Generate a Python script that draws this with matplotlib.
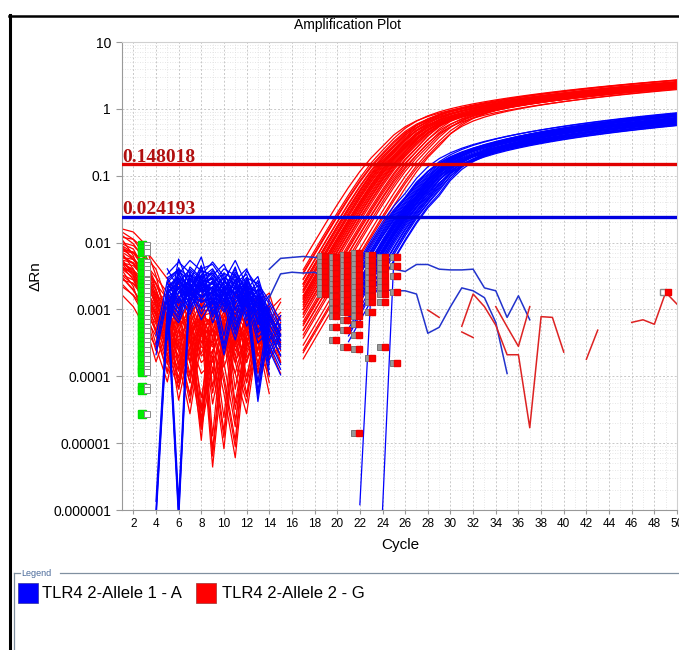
import numpy as np
import matplotlib
matplotlib.use("Agg")
import matplotlib.pyplot as plt
from matplotlib.lines import Line2D
from matplotlib.patches import Rectangle
from matplotlib.ticker import FixedLocator, FixedFormatter, MultipleLocator, LogLocator, NullFormatter

plt.rcParams['font.family'] = ['Liberation Sans', 'DejaVu Sans']

nan = np.nan
cycles = np.arange(1, 51)

# thresholds (dRn)
thr_allele1 = 0.024193
thr_allele2 = 0.148018

# threshold crossing cycle per well
blue_ct = [24.3, 25.6, 26.1, 24.8, 25.2, 26.7, 25.9, 25.4, 27.0, 24.6,
           25.8, 26.3, 25.1, 26.9, 25.5, 24.9, 26.0, 27.3, 25.7, 26.4,
           25.3, 26.6, 25.0, 25.9, 26.2, 27.1, 24.5, 25.6, 26.8, 25.4,
           26.0, 25.2, 27.4, 25.8, 26.5, 24.7, 26.1, 25.5, 26.3, 25.7]
red_ct = [22.5, 23.9, 24.6, 25.3, 23.4, 26.2, 24.1, 24.9, 27.5, 23.7,
          25.0, 24.4, 26.8, 23.2, 25.6, 24.7, 24.0, 25.9, 23.6, 26.5,
          24.3, 25.1, 22.9, 24.8, 27.1, 23.8, 25.4, 24.5, 26.0, 23.1,
          25.2, 24.2, 25.7, 23.5, 26.3, 24.6, 25.0, 27.3, 23.9, 24.4]

# early plateau level per well
blue_top = [0.115, 0.085, 0.1, 0.12, 0.08, 0.105, 0.09, 0.11, 0.095, 0.1]
red_top = [0.5, 0.45, 0.56, 0.48, 0.53, 0.44, 0.52, 0.47, 0.57, 0.5]

# wells whose curve dips below the axis just before take-off
dip_well = [5, 17]
dip_cycle = [22, 24]
dip_value = [1.2e-6, 1e-6]

# baseline noise, cycles 1-16, in units of 0.001
red_noise = [
    [8, 6, 3.5, 1.5, 0.6, 0.9, 0.2, 0.8, 0.4, 1.2, 0.3, 0.7, 0.15, 0.9, nan, nan],
    [6, 5, 2.5, 0.8, 1.1, 0.3, 0.05, 0.6, 0.9, 0.25, 0.8, 0.1, 0.5, 0.4, 0.8, nan],
    [10, 9, 6, 2, 0.4, 0.15, 0.7, 0.02, 0.3, 0.8, 0.5, 1.5, 0.4, 0.2, nan, nan],
    [4, 3, 1.8, 0.9, 0.2, 0.6, 1.4, 0.5, 0.008, 0.4, 0.9, 0.3, 0.8, 1.1, 0.3, nan],
    [7, 4, 1.2, 0.3, 0.9, 0.08, 0.5, 1.0, 0.6, 0.1, 0.011, 0.5, 1.0, 0.3, nan, nan],
    [5, 4.5, 3, 1.2, 0.5, 1.6, 0.3, 0.03, 0.9, 0.6, 0.2, 0.9, 0.2, 0.6, 0.9, nan],
    [9, 7, 4, 2.5, 0.8, 0.35, 0.1, 0.9, 0.25, 0.015, 0.7, 0.35, 0.6, 0.1, nan, nan],
    [3, 2, 1, 0.5, 0.15, 0.9, 0.6, 0.2, 1.3, 0.7, 0.04, 0.4, 0.9, 0.5, 0.2, nan],
    [7.5, 7, 5, 3, 1.8, 0.7, 1.2, 0.4, 0.07, 0.5, 1.1, 0.6, 0.25, 0.7, nan, nan],
    [5.5, 3.5, 2, 1.1, 0.35, 0.12, 0.8, 1.5, 0.5, 0.9, 0.2, 0.05, 0.7, 0.35, 0.5, nan],
]
blue_noise = [
    [nan, nan, nan, 0.3, 2.0, 3.0, 2.2, 1.5, 3.5, 2.0, 1.2, 2.8, 1.6, 0.9, 0.4, nan],
    [nan, nan, nan, nan, 1.2, 2.5, 4.0, 2.8, 1.8, 3.0, 2.4, 1.1, 2.0, 0.5, nan, nan],
    [nan, nan, nan, nan, 3.0, 1.5, 2.0, 4.5, 2.6, 1.4, 3.2, 0.8, 1.5, 0.25, 0.6, nan],
    [nan, nan, nan, 0.001, 0.8, 2.2, 1.2, 3.0, 2.0, 0.3, 1.8, 2.5, 0.7, 1.2, nan, nan],
    [nan, nan, nan, nan, 2.5, 3.8, 2.6, 1.0, 2.4, 3.5, 1.5, 2.0, 1.0, 0.35, 0.15, nan],
    [nan, nan, nan, nan, 1.8, 1.0, 3.2, 2.2, 0.9, 2.0, 4.0, 1.7, 0.06, 0.8, nan, nan],
    [nan, nan, nan, nan, 0.5, 4.2, 1.6, 2.4, 3.0, 1.6, 0.5, 2.2, 1.8, 1.0, 0.5, nan],
    [nan, nan, nan, nan, 1.6, 0.001, 2.8, 1.8, 1.2, 2.6, 2.0, 3.0, 1.2, 0.15, nan, nan],
    [nan, nan, nan, nan, 2.2, 2.9, 1.4, 3.3, 2.1, 1.3, 2.7, 1.5, 2.3, 0.6, 0.3, nan],
    [nan, nan, nan, nan, 1.5, 0.9, 2.4, 1.9, 3.8, 2.3, 0.7, 1.9, 0.45, 0.7, nan, nan],
]
red_scale = [1.0, 0.55, 1.6, 0.8]
blue_scale = [1.0, 0.7, 1.35, 0.85]

# odd wells that never amplified
blue_odd1_x = list(range(14, 38))
blue_odd1_y = [0.004, 0.0058, 0.006, 0.0062, 0.006, 0.0058, 0.0056, 0.005, 0.0048, 0.0045,
               0.0042, 0.004, 0.0037, 0.0047, 0.0047, 0.004, 0.0039, 0.0039, 0.004, 0.0021,
               0.0019, 0.00076, 0.0016, 0.0007]
blue_odd2_x = list(range(14, 36))
blue_odd2_y = [0.0015, 0.0034, 0.0036, 0.0035, 0.0036, 0.003, 0.0027, 0.0025, 0.0023, 0.0021,
               0.002, 0.0019, 0.0019, 0.0017, 0.00044, 0.00054, 0.0011, 0.0021, 0.0019, 0.0015,
               0.00064, 0.00011]
red_odd1_x = list(range(28, 51))
red_odd1_y = [0.00098, 0.00076, nan, 0.00056, 0.0017, 0.0011, 0.00058, 0.00021, 0.00021, 0.000017,
              0.00078, 0.00076, 0.00023, nan, 0.00018, 0.00049, nan, nan, 0.00064, 0.0007,
              0.0006, 0.0018, 0.0012]
red_odd2_x = [31, 32, 33, 34, 35, 36, 37]
red_odd2_y = [0.00046, 0.00038, nan, 0.0011, 0.00055, 0.00028, 0.0011]

# baseline start markers
start_vals = [0.0093, 0.0082, 0.0072, 0.0052, 0.0046, 0.0040, 0.0035, 0.0028, 0.0025, 0.0022,
              0.0019, 0.0016, 0.0014, 0.0012, 0.001, 0.00088, 0.00075, 0.00064, 0.00055, 0.00047,
              0.0004, 0.00034, 0.00029, 0.00025, 0.00021, 0.00018, 0.00015, 0.00013, 0.000115,
              0.00007, 0.000062, 0.000027]
# baseline end markers (cycle, dRn)
end_x = ([18.9] * 8 + [19.9] * 13 + [20.9] * 14 + [21.9] * 16 + [23.1] * 11
         + [24.2] * 9 + [25.3] * 5)
end_y = ([0.0062, 0.0052, 0.0044, 0.0037, 0.0031, 0.0026, 0.0021, 0.0017]
         + [0.006, 0.005, 0.0042, 0.0035, 0.0029, 0.0024, 0.002, 0.0016, 0.0013, 0.001, 0.0008,
            0.00055, 0.00035]
         + [0.0066, 0.0055, 0.0046, 0.0038, 0.0031, 0.0026, 0.0021, 0.0017, 0.0014, 0.0011,
            0.0009, 0.0007, 0.0005, 0.00027]
         + [0.007, 0.0058, 0.0048, 0.004, 0.0033, 0.0027, 0.0022, 0.0018, 0.0015, 0.0012, 0.001,
            0.0008, 0.0006, 0.00042, 0.00026, 0.000014]
         + [0.0065, 0.0054, 0.0045, 0.0037, 0.003, 0.0025, 0.002, 0.0016, 0.0013, 0.0009, 0.00019]
         + [0.006, 0.005, 0.0041, 0.0033, 0.0027, 0.0022, 0.0017, 0.0013, 0.00027]
         + [0.006, 0.0045, 0.0032, 0.0018, 0.00016])

y_ticks = [1e-6, 1e-5, 1e-4, 1e-3, 1e-2, 1e-1, 1, 10]
y_labels = ['0.000001', '0.00001', '0.0001', '0.001', '0.01', '0.1', '1', '10']


def amp_curve(ct, thr, top, s, d):
    m = ct + s * np.log((top - thr) / thr)
    L = 1.0 / (1.0 + np.exp(-(cycles - m) / s))
    return top * L * (1 + d * np.clip(cycles - m, 0, None))


def well(noise_a, noise_b, scale, ct, thr, top, s, d, start):
    y = np.full(len(cycles), nan)
    n = np.array(noise_a[:8] + noise_b[8:], dtype=float) * 1e-3 * scale
    y[:16] = n
    a = amp_curve(ct, thr, top, s, d)
    y[start - 1:] = a[start - 1:]
    return y


W, H = 679, 650
fig = plt.figure(figsize=(W / 100, H / 100), dpi=100)
fig.patch.set_facecolor('white')


def fx(px):
    return px / W


def fy(py):
    return 1 - py / H


ax = fig.add_axes([fx(122), fy(510), fx(677) - fx(122), fy(42) - fy(510)])
ax.set_yscale('log')
ax.set_xlim(1, 50)
ax.set_ylim(1e-6, 10)

for i in range(40):
    y = well(red_noise[i % 10], red_noise[(i * 3 + 1) % 10], red_scale[i // 10],
             red_ct[i], thr_allele2, red_top[i % 10], 1.5, 0.15, 17)
    ax.plot(cycles, y, color='#ff0000', lw=0.9, zorder=2)
for i in range(40):
    y = well(blue_noise[i % 10], blue_noise[(i * 3 + 1) % 10], blue_scale[i // 10],
             blue_ct[i], thr_allele1, blue_top[i % 10], 1.4, 0.27, 21)
    if i in dip_well:
        k = dip_well.index(i)
        y[16:dip_cycle[k] - 1] = nan
        y[dip_cycle[k] - 1] = dip_value[k]
    ax.plot(cycles, y, color='#0000ff', lw=0.9, zorder=2)

ax.plot(blue_odd1_x, blue_odd1_y, color='#2233cc', lw=1.1, zorder=3)
ax.plot(blue_odd2_x, blue_odd2_y, color='#2233cc', lw=1.1, zorder=3)
ax.plot(red_odd1_x, red_odd1_y, color='#dd2222', lw=1.1, zorder=3)
ax.plot(red_odd2_x, red_odd2_y, color='#dd2222', lw=1.1, zorder=3)

# markers
ax.plot([2.75] * len(start_vals), start_vals, ls='none', marker='s', ms=6,
        mfc='#00ee00', mec='#00dd00', zorder=4)
ax.plot([3.25] * len(start_vals), start_vals, ls='none', marker='s', ms=4,
        mfc='white', mec='#888888', mew=0.7, zorder=4)
ax.plot(np.array(end_x) - 0.4, end_y, ls='none', marker='s', ms=5,
        mfc='#999999', mec='#777777', mew=0.7, zorder=4)
ax.plot(end_x, end_y, ls='none', marker='s', ms=5,
        mfc='#ff0000', mec='#ee0000', zorder=4)
ax.plot([48.8], [0.0018], ls='none', marker='s', ms=4, mfc='white', mec='#888888', zorder=4)
ax.plot([49.2], [0.0018], ls='none', marker='s', ms=5, mfc='#ff0000', mec='#ee0000', zorder=4)

# thresholds
ax.axhline(thr_allele2, color='#e00000', lw=2.4, zorder=5)
ax.axhline(thr_allele1, color='#0000e0', lw=2.4, zorder=5)
ax.text(1.05, thr_allele2 * 1.1, '0.148018', family='Liberation Serif', weight='bold',
        color='#b01010', fontsize=14, va='baseline', ha='left', zorder=6)
ax.text(1.05, thr_allele1 * 1.1, '0.024193', family='Liberation Serif', weight='bold',
        color='#b01010', fontsize=14, va='baseline', ha='left', zorder=6)

# axes styling
ax.xaxis.set_major_locator(MultipleLocator(2))
ax.xaxis.set_minor_locator(MultipleLocator(1))
ax.yaxis.set_major_locator(FixedLocator(y_ticks))
ax.yaxis.set_major_formatter(FixedFormatter(y_labels))
ax.yaxis.set_minor_locator(LogLocator(base=10, subs=range(2, 10)))
ax.yaxis.set_minor_formatter(NullFormatter())
ax.grid(which='major', color='#c8c8c8', ls=(0, (2, 2)), lw=0.7)
ax.grid(which='minor', color='#dedede', ls=(0, (1, 2)), lw=0.6)
ax.set_axisbelow(True)
for side in ['top', 'right']:
    ax.spines[side].set_color('#d0d0d0')
for side in ['left', 'bottom']:
    ax.spines[side].set_color('#999999')
ax.tick_params(axis='y', which='major', labelsize=10, length=4, color='#999999', pad=4)
ax.tick_params(axis='x', which='major', labelsize=8.5, length=3, color='#999999', pad=3)
ax.tick_params(which='minor', length=0)

fig.text(fx(347), fy(25), 'Amplification Plot', fontsize=10, ha='center', va='center')
fig.text(fx(400), fy(545), 'Cycle', fontsize=11, ha='center', va='center')
fig.text(fx(36), fy(276), '\u0394Rn', fontsize=11, ha='center', va='center', rotation=90)

# outer frame
fig.add_artist(Line2D([fx(9.5), fx(9.5)], [fy(15), fy(650)], color='black', lw=2.2))
fig.add_artist(Line2D([fx(9), fx(679)], [fy(15.5), fy(15.5)], color='black', lw=1.8))

# legend box
fig.add_artist(Line2D([fx(14), fx(14)], [fy(573), fy(650)], color='#8090a0', lw=0.9))
fig.add_artist(Line2D([fx(14), fx(20)], [fy(573), fy(573)], color='#8090a0', lw=0.9))
fig.add_artist(Line2D([fx(60), fx(679)], [fy(573), fy(573)], color='#8090a0', lw=0.9))
fig.text(fx(21), fy(573), 'Legend', fontsize=6.5, color='#4a6a9a', va='center')
fig.add_artist(Rectangle((fx(18), fy(603)), fx(20), fy(583) - fy(603), transform=fig.transFigure,
                         facecolor='#0000ff', edgecolor='#3030a0', lw=0.5))
fig.add_artist(Rectangle((fx(196), fy(603)), fx(20), fy(583) - fy(603), transform=fig.transFigure,
                         facecolor='#ff0000', edgecolor='#a03030', lw=0.5))
fig.text(fx(42), fy(594), 'TLR4 2-Allele 1 - A', fontsize=12, va='center')
fig.text(fx(222), fy(594), 'TLR4 2-Allele 2 - G', fontsize=12, va='center')

fig.savefig('out.png', dpi=100)
